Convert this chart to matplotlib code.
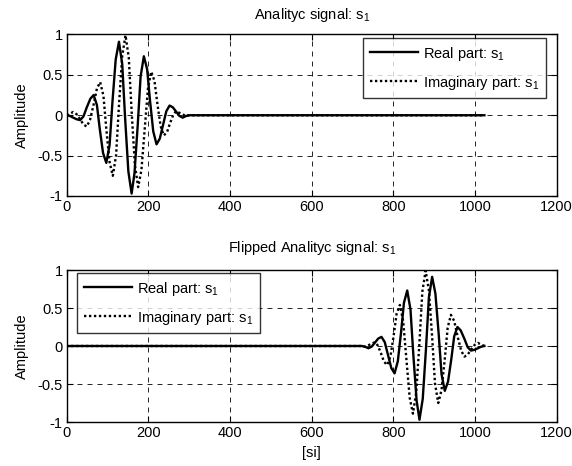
import matplotlib
matplotlib.use("Agg")
import matplotlib.pyplot as plt
import numpy as np

plt.rcParams['font.family'] = ['Liberation Sans', 'DejaVu Sans']
plt.rcParams['mathtext.fontset'] = 'custom'
plt.rcParams['mathtext.rm'] = 'Liberation Sans'
plt.rcParams['mathtext.it'] = 'Liberation Sans'
plt.rcParams['mathtext.default'] = 'regular'

# ---- data ----
n_samples = 1024

real_x = [0, 8, 16, 25, 33, 41, 49, 58, 66, 74, 81, 89, 97, 105, 112, 120, 128,
          136, 143, 151, 159, 166, 174, 181, 189, 197, 204, 212, 220, 228, 236,
          244, 252, 260, 268, 276, 284, 292, 300, 1023]
real_y = [0.0, -0.009, -0.03, -0.051, -0.06, -0.015, 0.095, 0.205, 0.25, 0.127,
          -0.17, -0.467, -0.59, -0.37, 0.16, 0.69, 0.91, 0.635, -0.03, -0.695,
          -0.97, -0.72, -0.12, 0.48, 0.73, 0.57, 0.185, -0.20, -0.36, -0.29,
          -0.12, 0.05, 0.12, 0.098, 0.045, -0.008, -0.03, -0.01, 0.0, 0.0]

imag_x = [0, 8, 16, 24, 33, 41, 49, 57, 66, 74, 82, 90, 97, 105, 113, 121, 128,
          136, 144, 152, 159, 167, 175, 183, 191, 199, 207, 215, 222, 230, 238,
          246, 253, 261, 268, 280, 292, 300, 1023]
imag_y = [0.0, 0.02, 0.04, 0.014, -0.05, -0.114, -0.14, -0.06, 0.135, 0.33, 0.41,
          0.24, -0.17, -0.58, -0.75, -0.495, 0.12, 0.735, 0.99, 0.715, 0.05,
          -0.615, -0.89, -0.68, -0.175, 0.33, 0.54, 0.425, 0.145, -0.135, -0.25,
          -0.206, -0.10, 0.006, 0.05, 0.02, -0.01, 0.0, 0.0]

# flipped signal: same samples in reversed order
flip_real_x = [n_samples - 1 - v for v in real_x]
flip_imag_x = [n_samples - 1 - v for v in imag_x]

x_ticks = [0, 200, 400, 600, 800, 1000, 1200]
y_ticks = [-1, -0.5, 0, 0.5, 1]
y_ticklabels = ['-1', '-0.5', '0', '0.5', '1']

fig = plt.figure(figsize=(5.72, 4.66), dpi=100)
ax1 = fig.add_axes([0.1166, 0.5794, 0.8566, 0.3466])
ax2 = fig.add_axes([0.1166, 0.0944, 0.8566, 0.3262])

FS = 10.5
dot_style = (0, (1, 1.1))


def style(ax):
    ax.set_xlim(0, 1200)
    ax.set_ylim(-1, 1)
    ax.set_xticks(x_ticks)
    ax.set_yticks(y_ticks)
    ax.set_yticklabels(y_ticklabels)
    ax.tick_params(direction='in', top=True, right=True, labelsize=FS,
                   length=4, width=0.8, pad=3)
    ax.grid(True, color='black', linestyle=(0, (6, 6)), linewidth=0.6)
    for s in ax.spines.values():
        s.set_linewidth(1.0)
    ax.set_ylabel('Amplitude', fontsize=FS, labelpad=6)


def legend(ax, loc, anchor):
    leg = ax.legend(loc=loc, bbox_to_anchor=anchor, fontsize=FS, frameon=True,
                    fancybox=False, edgecolor='black', handlelength=3.3,
                    borderaxespad=0.0, borderpad=0.45, labelspacing=0.75,
                    handletextpad=0.35)
    leg.get_frame().set_linewidth(1.0)
    return leg


ax1.plot(real_x, real_y, color='black', linewidth=1.7, label='Real part: s$_1$')
ax1.plot(imag_x, imag_y, color='black', linewidth=1.7, linestyle=dot_style,
         label='Imaginary part: s$_1$')
style(ax1)
ax1.set_title('Analityc signal: s$_1$', fontsize=FS, pad=11)
legend(ax1, 'upper right', (0.978, 0.978))

ax2.plot(flip_real_x, real_y, color='black', linewidth=1.7, label='Real part: s$_1$')
ax2.plot(flip_imag_x, imag_y, color='black', linewidth=1.7, linestyle=dot_style,
         label='Imaginary part: s$_1$')
style(ax2)
ax2.set_title('Flipped Analityc signal: s$_1$', fontsize=FS, pad=13)
ax2.set_xlabel('[si]', fontsize=FS, labelpad=4)
legend(ax2, 'upper left', (0.021, 0.980))

fig.savefig('out.png', dpi=100)
